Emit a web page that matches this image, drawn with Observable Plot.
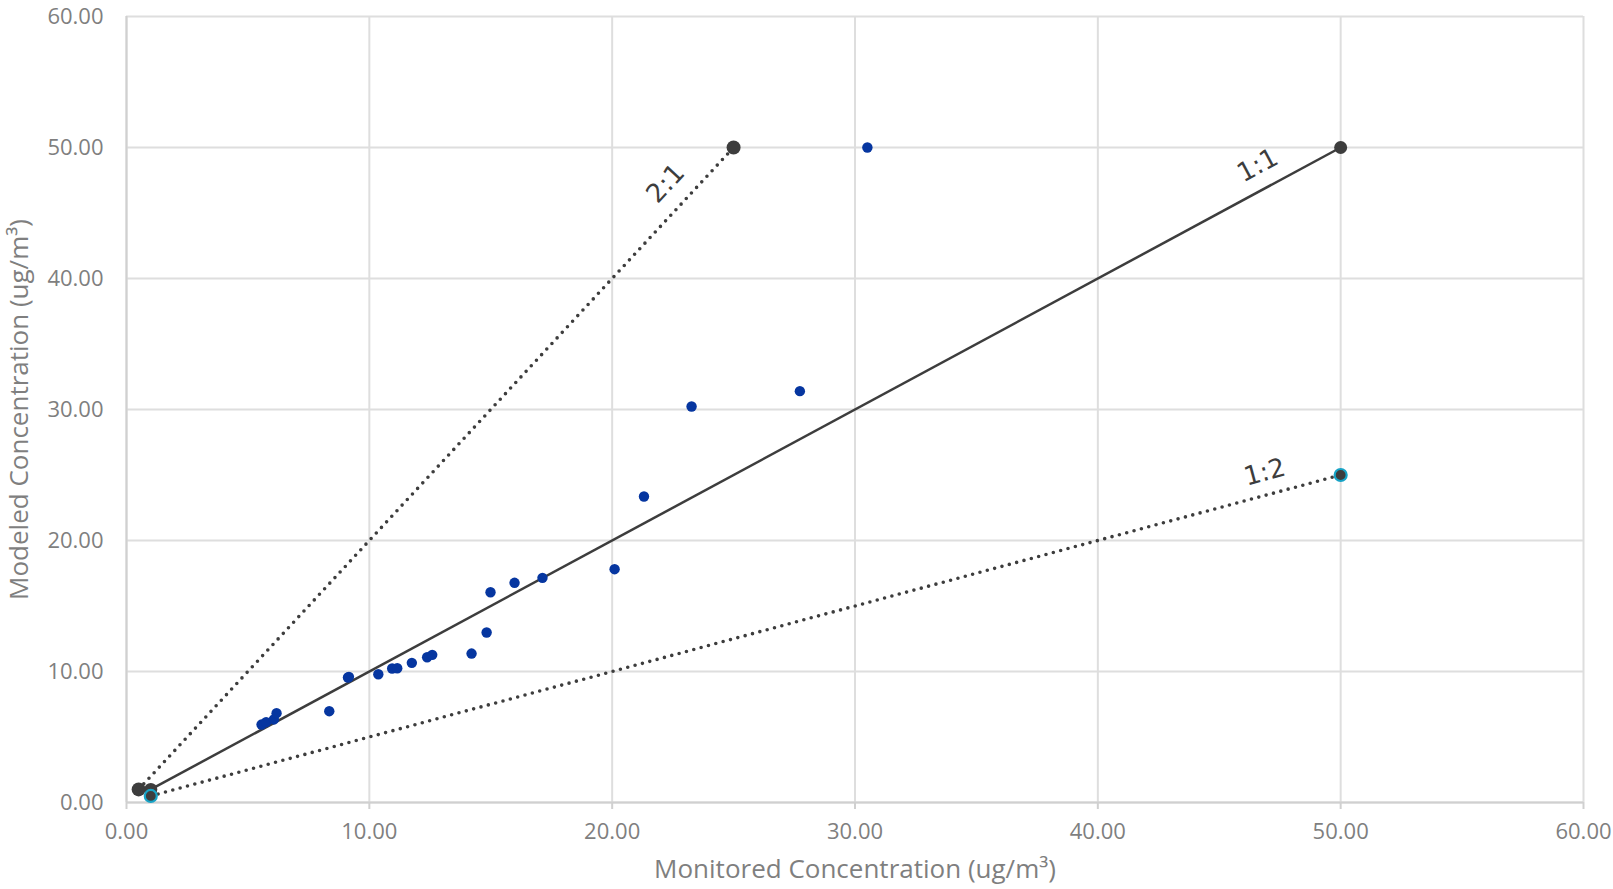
<!DOCTYPE html>
<html>
<head>
<meta charset="utf-8">
<script src="https://cdn.jsdelivr.net/npm/d3@7"></script>
<script src="https://cdn.jsdelivr.net/npm/@observablehq/plot@0.6"></script>
<style>
  body { margin: 0; background: #ffffff; }
  #chart svg { display: block; }
</style>
</head>
<body>
<div id="chart"></div>
<script>
// Monitored vs modeled concentration pairs (ug/m³)
const monitored = [5.56, 5.75, 6.07, 6.18, 8.35, 9.12, 9.16, 10.37, 10.94, 11.15, 11.75, 12.38, 12.59, 14.21, 14.83, 14.99, 15.98, 17.13, 20.10, 21.31, 23.27, 27.73, 30.51];
const modeled   = [5.95, 6.13, 6.34, 6.82, 6.97, 9.54, 9.59, 9.79, 10.23, 10.25, 10.66, 11.09, 11.27, 11.37, 12.98, 16.05, 16.77, 17.15, 17.81, 23.36, 30.23, 31.40, 50.00];

// Reference ratio lines (start and end points)
const refNames = ["2:1", "1:1", "1:2"];
const refSlope = [2, 1, 0.5];
const refX0 = [0.5, 1, 1];
const refY0 = [1, 1, 0.5];
const refX1 = [25, 50, 50];
const refY1 = [50, 50, 25];
const labelX = [22.2, 46.58, 46.87];
const labelY = [47.25, 48.63, 25.2];

const xTicks = [0, 10, 20, 30, 40, 50, 60];
const yTicks = [0, 10, 20, 30, 40, 50, 60];
const xTitle = "Monitored Concentration (ug/m³)";
const yTitle = "Modeled Concentration (ug/m³)";

const W = 1613, H = 889;
const mL = 126, mR = 30, mT = 16, mB = 87;
const innerW = W - mL - mR, innerH = H - mT - mB;

const points = monitored.map((x, i) => ({x, y: modeled[i]}));
const refs = refNames.map((name, i) => ({
  name, slope: refSlope[i],
  x0: refX0[i], y0: refY0[i], x1: refX1[i], y1: refY1[i],
  lx: labelX[i], ly: labelY[i]
}));
const ends = refs.flatMap(r => [{name: r.name, x: r.x0, y: r.y0}, {name: r.name, x: r.x1, y: r.y1}]);
const angle = s => -Math.atan(s * (innerH / 60) / (innerW / 60)) * 180 / Math.PI;

const dark = "#3d3d3d";
const fmt = d3.format(".2f");

const chart = Plot.plot({
  width: W, height: H,
  marginLeft: mL, marginRight: mR, marginTop: mT, marginBottom: mB,
  style: {fontFamily: "'Open Sans', sans-serif", background: "#ffffff"},
  x: {domain: [0, 60]},
  y: {domain: [0, 60]},
  marks: [
    Plot.gridX(xTicks, {stroke: "#dedede", strokeOpacity: 1, strokeWidth: 2}),
    Plot.gridY(yTicks, {stroke: "#dedede", strokeOpacity: 1, strokeWidth: 2}),
    Plot.ruleX([0], {stroke: "#d0d0d0", strokeWidth: 2}),
    Plot.ruleY([0], {stroke: "#d0d0d0", strokeWidth: 2}),
    Plot.axisX(xTicks, {tickSize: 7, tickPadding: 14, tickFormat: fmt, fontSize: 22, fill: "#7f7f7f", stroke: "#d0d0d0", strokeWidth: 2, label: null}),
    Plot.axisY(yTicks, {tickSize: 0, tickPadding: 23, tickFormat: fmt, fontSize: 22, fill: "#7f7f7f", label: null}),
    // dotted 2:1 and 1:2 lines
    Plot.link(refs.filter(r => r.name !== "1:1"), {
      x1: "x0", y1: "y0", x2: "x1", y2: "y1",
      stroke: dark, strokeWidth: 3.6, strokeLinecap: "round", strokeDasharray: "0 7.6"
    }),
    // solid 1:1 line
    Plot.link(refs.filter(r => r.name === "1:1"), {
      x1: "x0", y1: "y0", x2: "x1", y2: "y1",
      stroke: dark, strokeWidth: 2.5
    }),
    Plot.dot(ends.filter(d => d.name === "2:1"), {x: "x", y: "y", r: 7, fill: dark}),
    Plot.dot(ends.filter(d => d.name === "1:1"), {x: "x", y: "y", r: 6.5, fill: dark}),
    Plot.dot(ends.filter(d => d.name === "1:2"), {x: "x", y: "y", r: 6, fill: dark, stroke: "#17a3c6", strokeWidth: 2.2}),
    Plot.dot(points, {x: "x", y: "y", r: 5.2, fill: "#0636a0"}),
    Plot.text(refs, {
      x: "lx", y: "ly", text: "name", rotate: d => angle(d.slope),
      fontSize: 26, fill: dark, fontFamily: "'DejaVu Sans', sans-serif",
      textAnchor: "middle", lineAnchor: "middle"
    }),
    Plot.text([xTitle], {text: d => d, frameAnchor: "bottom", dy: 67, fontSize: 26, fill: "#7f7f7f", textAnchor: "middle", lineAnchor: "middle"}),
    Plot.text([yTitle], {text: d => d, frameAnchor: "left", dx: -107, rotate: -90, fontSize: 26, fill: "#7f7f7f", textAnchor: "middle", lineAnchor: "middle"})
  ]
});
document.getElementById("chart").appendChild(chart);
</script>
</body>
</html>
